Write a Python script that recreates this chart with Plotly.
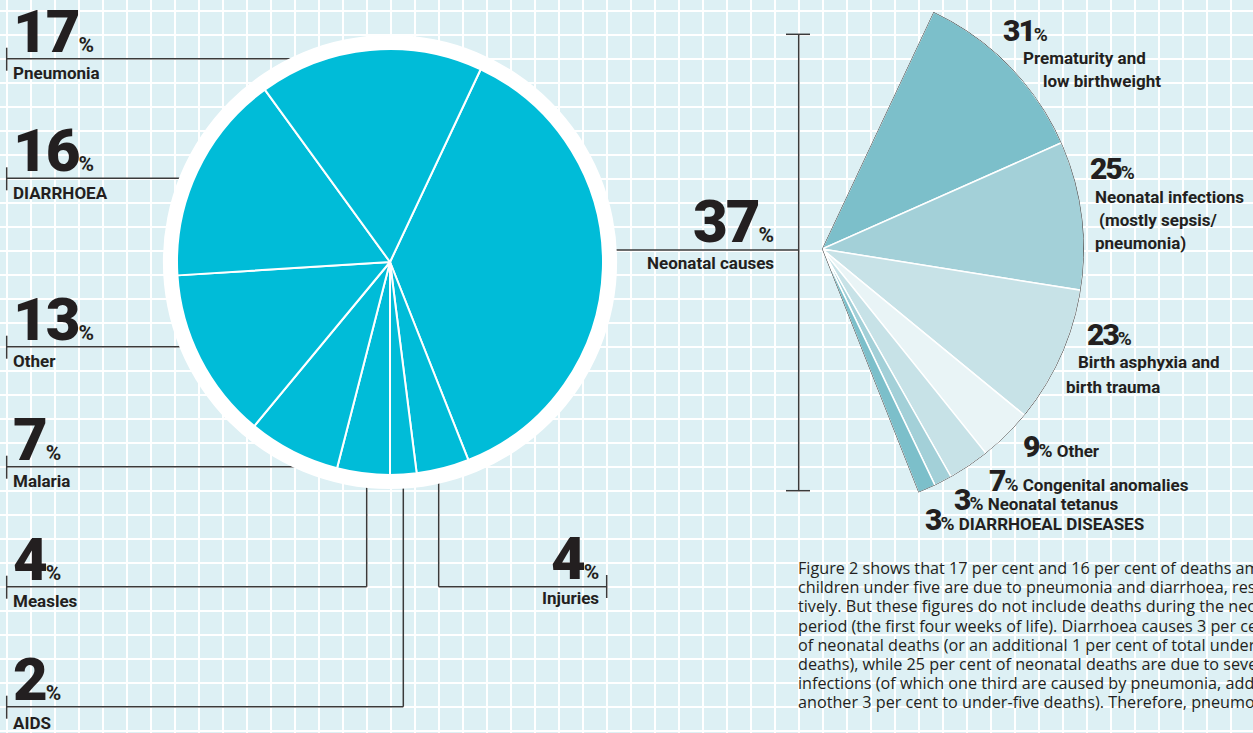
import math
import plotly.graph_objects as go

W, H = 1253, 733
BG = "#ddf0f4"
INK = "#231f20"
LINE = "#3a3a3a"
CYAN = "#00bcd8"
FONT = "Roboto"
BODY = "Open Sans"

# under-five deaths, clockwise starting with the neonatal slice
causes = ["Neonatal causes", "Injuries", "AIDS", "Measles", "Malaria", "Other", "DIARRHOEA", "Pneumonia"]
shares = [37, 4, 2, 4, 7, 13, 16, 17]

# breakdown of the neonatal slice (top to bottom)
neo_causes = ["Prematurity and low birthweight", "Neonatal infections", "Birth asphyxia and birth trauma",
              "Other", "Congenital anomalies", "Neonatal tetanus", "DIARRHOEAL DISEASES"]
neo_shares = [31, 25, 23, 9, 7, 3, 3]
neo_colors = ["#7cbfca", "#a3d0d8", "#c7e2e7", "#e9f4f6", "#c7e2e7", "#a3d0d8", "#7cbfca"]

body_lines = [
    "Figure 2 shows that 17 per cent and 16 per cent of deaths among",
    "children under five are due to pneumonia and diarrhoea, respec-",
    "tively. But these figures do not include deaths during the neonatal",
    "period (the first four weeks of life). Diarrhoea causes 3 per cent",
    "of neonatal deaths (or an additional 1 per cent of total under-five",
    "deaths), while 25 per cent of neonatal deaths are due to severe",
    "infections (of which one third are caused by pneumonia, adding",
    "another 3 per cent to under-five deaths). Therefore, pneumonia",
]

START = 25.2          # neonatal slice starts here, degrees clockwise from 12 o'clock
CX, CY, R, RING = 390, 262, 213, 227
FX, FY, FR = 822, 249, 262


def dom(cx, cy, r):
    return dict(x=[(cx - r) / W, (cx + r) / W], y=[(H - cy - r) / H, (H - cy + r) / H])


fig = go.Figure()

# white ring behind the pie
fig.add_trace(go.Pie(values=[1], marker=dict(colors=["white"]), domain=dom(CX, CY, RING),
                     textinfo="none", hoverinfo="skip", sort=False, showlegend=False))
fig.add_trace(go.Pie(
    labels=causes, values=shares, sort=False, direction="clockwise", rotation=START,
    marker=dict(colors=[CYAN] * len(shares), line=dict(color="white", width=2)),
    textinfo="none", domain=dom(CX, CY, R), showlegend=False,
))

# exploded neonatal fan on a polar subplot
span = shares[0] * 3.6
tot = sum(neo_shares)
widths = [v * span / tot for v in neo_shares]
centers, acc = [], START
for w in widths:
    centers.append(acc + w / 2)
    acc += w
sector = [90 - (START + span), 90 - START]
ytop = math.sin(math.radians(sector[1]))
ybot = -math.sin(math.radians(sector[0]))

fig.add_trace(go.Barpolar(
    r=[1] * len(neo_shares), theta=centers, width=widths, text=neo_causes,
    marker=dict(color=neo_colors, line=dict(color="white", width=1.5)),
    showlegend=False, hoverinfo="text",
))
fig.add_trace(go.Barpolar(
    r=[1], theta=[START + span / 2], width=[span],
    marker=dict(color="rgba(0,0,0,0)", line=dict(color="#333333", width=1)),
    showlegend=False, hoverinfo="skip",
))

shapes = []


def seg(x0, y0, x1, y1):
    shapes.append(dict(type="line", xref="x", yref="y", x0=x0, y0=y0, x1=x1, y1=y1,
                       line=dict(color=LINE, width=1.5), layer="between"))


annos = []


def txt(x, base, html, big=17, anchor="left", size=17, family=FONT, weight=700):
    # place by baseline; anchor from the top when the bottom would fall off the page
    y, ya = base + 0.244 * big + 1, "bottom"
    if y > H:
        y, ya = base - 0.928 * big - 1, "top"
    annos.append(dict(x=x, y=y, xref="x", yref="y", text=html,
                      showarrow=False, xanchor=anchor, yanchor=ya, align=anchor,
                      font=dict(family=family, size=size, color=INK, weight=weight)))


def big_num(v, big=60, pct=21):
    return (f'<span style="font-size:{big}px;font-weight:900;letter-spacing:-2px">{v}</span>'
            f'<span style="font-size:{pct}px">%</span>')


# left-hand labels
left = {"Pneumonia": (58.7, None), "DIARRHOEA": (178.3, None), "Other": (346.7, None),
        "Malaria": (466.7, None), "Measles": (586.7, 366.7), "AIDS": (706.7, 403.3)}
for name, (ly, elbow) in left.items():
    v = shares[causes.index(name)]
    seg(6.7, ly - 11, 6.7, ly + 12)
    if elbow is None:
        seg(6.7, ly, CX, ly)
    else:
        seg(6.7, ly, elbow, ly)
        seg(elbow, ly, elbow, CY + R)
    txt(11, ly - 5.5, big_num(v), big=60)
    txt(11, ly + 21.5, name)

# injuries, bottom right of pie
seg(438.7, 586.7, 606.7, 586.7)
seg(438.7, 586.7, 438.7, CY + R)
seg(606.7, 575, 606.7, 598)
txt(601, 580, big_num(shares[1]), big=60, anchor="right")
txt(601, 605, "Injuries", anchor="right")

# neonatal leader and bracket
seg(CX, 250, 798.7, 250)
seg(798.7, 34.3, 798.7, 490.7)
seg(786, 34.3, 810, 34.3)
seg(786, 490.7, 810, 490.7)
txt(776, 243, big_num(shares[0]), big=60, anchor="right")
txt(776, 270, "Neonatal causes", anchor="right")

# fan labels
txt(1001, 42, big_num(neo_shares[0], 30, 19), big=30)
txt(1021, 65, "Prematurity and")
txt(1041, 88, "low birthweight")
txt(1088, 180, big_num(neo_shares[1], 30, 19), big=30)
txt(1093, 204, "Neonatal infections")
txt(1097, 227, "(mostly sepsis/")
txt(1093, 250, "pneumonia)")
txt(1085, 346, big_num(neo_shares[2], 30, 19), big=30)
txt(1076, 369, "Birth asphyxia and")
txt(1064, 394, "birth trauma")
small = [(1021, 458, 3), (987, 492, 4), (952, 511, 5), (923, 531, 6)]
for x, b, i in small:
    txt(x, b, big_num(neo_shares[i], 30, 19) + " " + neo_causes[i], big=30)

# body copy
for i, line in enumerate(body_lines):
    txt(796, 576 + i * 19.2, line, big=16.2, size=16.2, family=BODY, weight=400)

axis = dict(showgrid=True, gridcolor="white", gridwidth=2, zeroline=False,
            showticklabels=False, ticks="", showline=False, fixedrange=True)
fig.update_layout(
    width=W, height=H,
    margin=dict(l=0, r=0, t=0, b=0),
    paper_bgcolor=BG, plot_bgcolor=BG,
    xaxis=dict(axis, range=[0, W], tick0=6.7, dtick=24),
    yaxis=dict(axis, range=[H, 0], tick0=10.6, dtick=24),
    polar=dict(
        domain=dict(x=[FX / W, (FX + FR) / W], y=[(H - FY - FR * ybot) / H, (H - FY + FR * ytop) / H]),
        sector=sector, hole=0, bgcolor="rgba(0,0,0,0)",
        radialaxis=dict(visible=False, range=[0, 1]),
        angularaxis=dict(visible=False, rotation=90, direction="clockwise"),
    ),
    shapes=shapes,
    annotations=annos,
    showlegend=False,
)

fig.write_html("out.html", config={"displayModeBar": False},
               post_script="document.body.style.margin='0';")
